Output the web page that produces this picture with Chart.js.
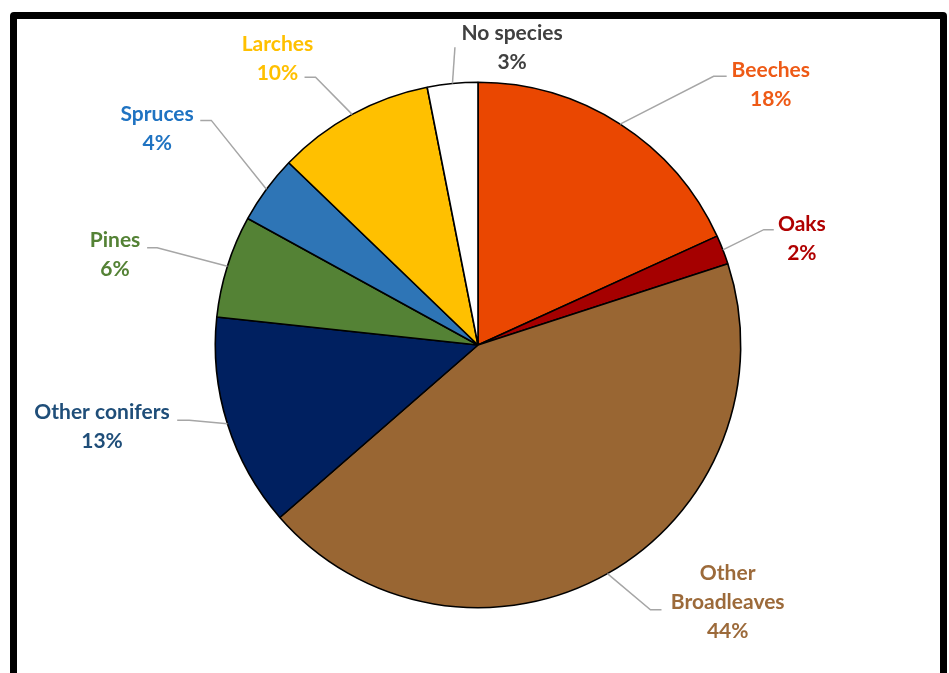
<!DOCTYPE html>
<html>
<head>
<meta charset="utf-8">
<script src="https://cdn.jsdelivr.net/npm/chart.js@4/dist/chart.umd.min.js"></script>
<style>
  html, body { margin: 0; padding: 0; background: #fff; overflow: hidden; }
  #frame {
    position: absolute; left: 10px; top: 12px; width: 937px; height: 720px;
    box-sizing: border-box; border: 7px solid #000; border-radius: 4px;
  }
  #wrap { position: absolute; left: 0; top: 0; width: 949px; height: 673px; }
</style>
</head>
<body>
<div id="frame"></div>
<div id="wrap"><canvas id="chart" width="949" height="673"></canvas></div>
<script>
// forest area by species group
var categories = ['Beeches', 'Oaks', 'Other Broadleaves', 'Other conifers', 'Pines', 'Spruces', 'Larches', 'No species'];
var shares     = [18.2, 1.8, 43.6, 13.1, 6.3, 4.2, 9.7, 3.1];
var labelLines = [['Beeches'], ['Oaks'], ['Other', 'Broadleaves'], ['Other conifers'], ['Pines'], ['Spruces'], ['Larches'], ['No species']];

var sliceColors = ['#EA4701', '#A50000', '#996633', '#002060', '#548235', '#2E75B6', '#FFC000', '#FFFFFF'];
var textColors  = ['#EE5A16', '#B00000', '#9C6A3A', '#1F4E79', '#548235', '#1F73C2', '#FFC000', '#404040'];

// label layout, pixels relative to pie centre (for a 262px radius)
var labelCenter = [[292, -260], [323, -106], [249, 257], [-375, 82], [-362, -90], [-320, -216], [-200, -286], [34, -296]];
var leaderStart = [[248, -268], [295, -115], [183, 264], [-300, 75], [-330, -97], [-277, -224], [-173, -267], [-23, -297]];
var leaderElbow = [[235, -268], [285, -115], [172, 264], [-288, 75], [-320, -97], [-266, -224], [-162, -267], [-23, -297]];

var leaderPlugin = {
    id: 'leaders',
    afterDatasetsDraw: function(chart){
        var ctx = chart.ctx;
        var meta = chart.getDatasetMeta(0);
        ctx.save();
        meta.data.forEach(function(arc, i){
            var p = arc.getProps(['x', 'y', 'startAngle', 'endAngle', 'outerRadius'], true);
            var k = p.outerRadius / 262;
            var mid = (p.startAngle + p.endAngle) / 2;
            var ex = p.x + Math.cos(mid) * p.outerRadius;
            var ey = p.y + Math.sin(mid) * p.outerRadius;
            ctx.strokeStyle = '#A6A6A6';
            ctx.lineWidth = 1.5;
            ctx.beginPath();
            ctx.moveTo(p.x + leaderStart[i][0] * k, p.y + leaderStart[i][1] * k);
            ctx.lineTo(p.x + leaderElbow[i][0] * k, p.y + leaderElbow[i][1] * k);
            ctx.lineTo(ex, ey);
            ctx.stroke();

            var lines = labelLines[i].concat([Math.round(shares[i]) + '%']);
            var cx = p.x + labelCenter[i][0] * k;
            var cy = p.y + labelCenter[i][1] * k;
            var lh = 29;
            ctx.fillStyle = textColors[i];
            ctx.font = 'bold 21px Lato';
            ctx.textAlign = 'center';
            ctx.textBaseline = 'middle';
            lines.forEach(function(t, j){
                ctx.fillText(t, cx, cy - (lines.length - 1) * lh / 2 + j * lh);
            });
        });
        ctx.restore();
    }
};

var pieChart = new Chart(document.getElementById('chart'), {
    type: 'pie',
    data: {
        labels: categories,
        datasets: [{
            data: shares,
            backgroundColor: sliceColors,
            borderColor: '#000000',
            borderWidth: 1.6
        }]
    },
    options: {
        responsive: false,
        animation: false,
        layout: { padding: { left: 214.5, right: 207.5, top: 81.5, bottom: 64.5 } },
        plugins: {
            legend: { display: false },
            tooltip: { enabled: false }
        }
    },
    plugins: [leaderPlugin]
});
</script>
</body>
</html>
